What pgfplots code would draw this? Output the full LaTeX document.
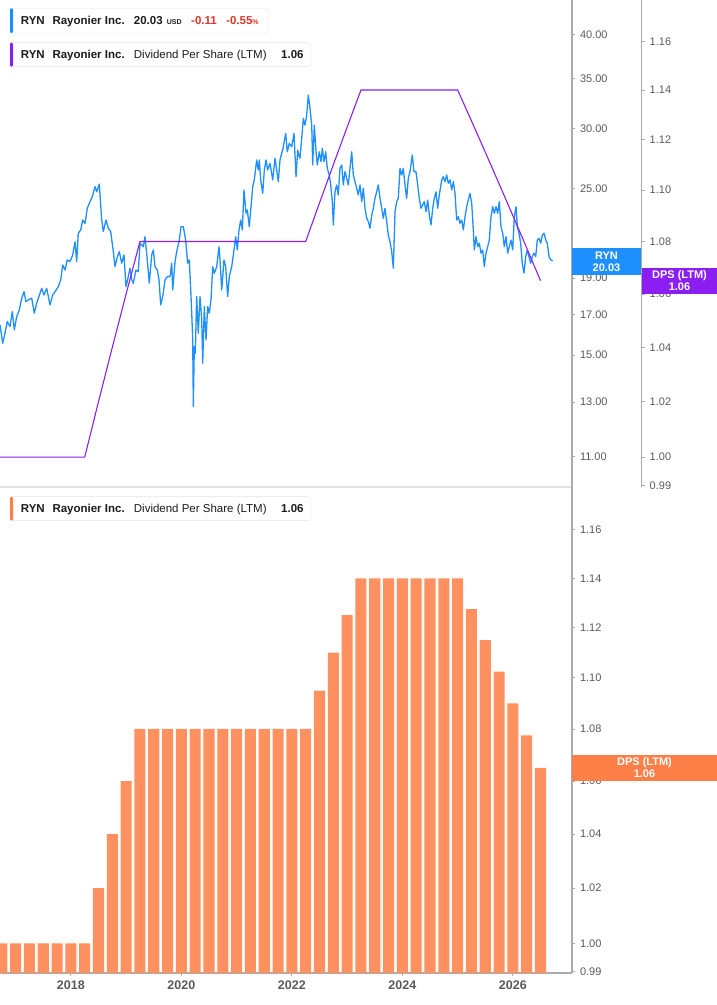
\documentclass[border=0pt]{standalone}
\usepackage{pgfplots}
\pgfplotsset{compat=1.18}
\usepackage{pgfplotstable}
\usepackage{fontspec}
\setmainfont{Liberation Sans}

\definecolor{pricecol}{HTML}{1E8FFF}
\definecolor{dpscol}{HTML}{8B1FF2}
\definecolor{barcol}{HTML}{FF9160}
\definecolor{boxorange}{HTML}{FC7F48}
\definecolor{tickgray}{HTML}{5A5A5A}
\definecolor{axisgray}{HTML}{ABABAB}
\definecolor{sepgray}{HTML}{E2E2E2}
\definecolor{legborder}{HTML}{E6E6E6}
\definecolor{downred}{HTML}{E0362C}
\definecolor{txt}{HTML}{1C1C1C}

\newcommand\lgfont{\fontsize{11.5}{13}\selectfont}
\newcommand\tkfont{\fontsize{11}{13}\selectfont}

% trailing twelve month dividend per share, quarterly
\pgfplotstableread{
year dps
2016.50 1.00
2016.75 1.00
2017.00 1.00
2017.25 1.00
2017.50 1.00
2017.75 1.00
2018.00 1.00
2018.25 1.00
2018.50 1.02
2018.75 1.04
2019.00 1.06
2019.25 1.08
2019.50 1.08
2019.75 1.08
2020.00 1.08
2020.25 1.08
2020.50 1.08
2020.75 1.08
2021.00 1.08
2021.25 1.08
2021.50 1.08
2021.75 1.08
2022.00 1.08
2022.25 1.08
2022.50 1.095
2022.75 1.11
2023.00 1.125
2023.25 1.14
2023.50 1.14
2023.75 1.14
2024.00 1.14
2024.25 1.14
2024.50 1.14
2024.75 1.14
2025.00 1.14
2025.25 1.1275
2025.50 1.115
2025.75 1.1025
2026.00 1.09
2026.25 1.0775
2026.50 1.065
}\dpstable

% RYN share price (USD)
\pgfplotstableread{
year price
2016.717 16.46
2016.766 15.56
2016.808 16.06
2016.849 16.63
2016.898 16.37
2016.940 17.14
2016.976 16.21
2017.019 16.88
2017.066 17.23
2017.110 17.86
2017.151 18.22
2017.188 17.67
2017.229 17.77
2017.291 17.86
2017.338 17.06
2017.381 17.59
2017.441 18.13
2017.472 18.41
2017.513 18.04
2017.562 18.41
2017.622 17.50
2017.671 18.04
2017.713 18.22
2017.772 18.50
2017.816 18.89
2017.852 19.77
2017.894 19.47
2017.935 20.08
2017.984 19.98
2018.033 20.39
2018.075 21.23
2018.105 19.98
2018.134 21.79
2018.178 22.01
2018.214 22.69
2018.256 22.46
2018.297 23.52
2018.346 24.00
2018.388 24.37
2018.437 25.13
2018.467 24.74
2018.514 25.33
2018.558 22.69
2018.587 21.90
2018.636 22.69
2018.677 22.12
2018.721 21.90
2018.768 20.59
2018.799 19.67
2018.840 20.28
2018.876 20.59
2018.920 19.88
2018.961 20.39
2018.998 18.50
2019.039 19.08
2019.070 19.58
2019.101 18.89
2019.130 18.70
2019.178 19.47
2019.220 19.37
2019.251 21.13
2019.311 20.91
2019.341 21.56
2019.383 20.08
2019.419 18.70
2019.463 20.39
2019.492 20.70
2019.523 19.67
2019.564 19.47
2019.595 18.89
2019.626 17.50
2019.662 17.95
2019.704 18.89
2019.745 19.08
2019.794 19.08
2019.825 19.88
2019.843 18.32
2019.885 19.98
2019.915 20.59
2019.962 21.34
2019.993 22.23
2020.035 22.23
2020.078 21.34
2020.114 19.88
2020.143 20.08
2020.169 18.32
2020.187 17.06
2020.205 15.72
2020.216 12.82
2020.234 15.40
2020.252 15.09
2020.277 17.95
2020.306 16.04
2020.337 17.95
2020.368 16.71
2020.386 14.64
2020.415 17.41
2020.446 15.72
2020.476 17.41
2020.505 17.06
2020.536 17.77
2020.567 19.67
2020.596 19.28
2020.639 19.67
2020.681 20.91
2020.699 20.08
2020.730 18.32
2020.771 20.08
2020.802 19.67
2020.838 17.95
2020.867 19.08
2020.911 19.67
2020.952 20.70
2020.983 21.56
2021.012 20.70
2021.043 22.01
2021.074 22.69
2021.103 22.01
2021.133 24.87
2021.170 23.16
2021.193 23.40
2021.229 22.23
2021.260 23.64
2021.291 25.13
2021.320 25.65
2021.363 27.27
2021.392 26.44
2021.410 27.27
2021.436 25.65
2021.472 24.62
2021.501 26.44
2021.532 27.27
2021.562 26.44
2021.604 26.99
2021.653 25.65
2021.695 27.41
2021.725 26.44
2021.754 25.51
2021.785 27.27
2021.816 27.83
2021.845 28.39
2021.888 29.58
2021.917 27.96
2021.954 28.69
2021.997 28.39
2022.038 29.58
2022.075 25.91
2022.106 28.11
2022.134 27.54
2022.147 27.41
2022.178 29.13
2022.207 30.97
2022.238 30.34
2022.268 31.29
2022.297 33.26
2022.328 31.93
2022.359 30.34
2022.377 26.85
2022.406 30.34
2022.437 27.96
2022.460 26.85
2022.496 27.96
2022.527 27.12
2022.551 28.26
2022.581 27.12
2022.612 27.96
2022.641 26.58
2022.677 26.04
2022.703 25.26
2022.732 24.00
2022.750 22.35
2022.780 24.74
2022.811 25.26
2022.840 24.50
2022.871 26.58
2022.902 26.85
2022.930 25.26
2022.961 26.31
2022.992 25.78
2023.021 25.26
2023.052 26.58
2023.083 27.96
2023.112 26.04
2023.143 25.51
2023.173 25.00
2023.202 24.50
2023.233 25.26
2023.264 24.00
2023.293 25.00
2023.324 23.52
2023.354 22.81
2023.384 22.57
2023.414 22.12
2023.445 23.04
2023.474 23.52
2023.504 24.25
2023.535 24.74
2023.564 25.26
2023.595 24.25
2023.626 23.52
2023.655 22.81
2023.685 23.52
2023.716 22.57
2023.745 21.67
2023.776 21.23
2023.807 20.59
2023.836 19.58
2023.867 23.28
2023.897 24.00
2023.926 24.25
2023.957 26.58
2023.988 26.04
2024.017 26.58
2024.047 25.26
2024.078 24.25
2024.107 25.78
2024.138 26.31
2024.179 27.68
2024.210 26.31
2024.246 26.31
2024.277 25.26
2024.306 24.25
2024.337 23.52
2024.368 23.76
2024.397 24.00
2024.428 23.28
2024.458 24.12
2024.487 23.04
2024.518 22.35
2024.549 23.52
2024.578 24.25
2024.609 24.74
2024.639 23.52
2024.668 24.50
2024.712 25.65
2024.741 25.91
2024.771 25.51
2024.802 26.04
2024.831 25.39
2024.862 25.65
2024.893 24.87
2024.922 25.51
2024.953 24.62
2024.983 22.69
2025.012 22.92
2025.043 22.46
2025.074 22.69
2025.103 22.01
2025.134 22.92
2025.164 23.64
2025.193 24.12
2025.224 24.62
2025.255 23.88
2025.284 22.01
2025.302 20.70
2025.333 21.56
2025.363 20.91
2025.392 21.13
2025.423 20.50
2025.454 20.70
2025.483 19.67
2025.513 20.50
2025.544 20.91
2025.573 21.34
2025.604 22.92
2025.635 23.64
2025.664 23.16
2025.695 23.64
2025.726 23.16
2025.754 24.00
2025.785 22.23
2025.816 21.79
2025.845 20.91
2025.876 21.56
2025.906 20.50
2025.935 20.91
2025.966 21.34
2025.997 20.70
2026.026 22.92
2026.057 23.64
2026.080 22.23
2026.111 21.79
2026.141 21.13
2026.170 19.88
2026.201 19.28
2026.232 20.28
2026.261 20.70
2026.292 20.28
2026.322 19.88
2026.351 20.28
2026.382 20.50
2026.413 20.28
2026.442 21.34
2026.473 21.46
2026.504 21.13
2026.533 21.67
2026.564 21.79
2026.595 21.34
2026.623 21.13
2026.654 20.28
2026.685 20.08
2026.721 20.03
}\pricetable

\pgfplotsset{
  panel/.style={
    scale only axis,
    anchor=south west,
    xmin=2016.717,
    tick align=outside,
    major tick length=3pt,
    tick style={draw=axisgray, line width=0.8pt},
    y axis line style={draw=axisgray, line width=1.2pt},
    yticklabel style={font=\tkfont, text=tickgray, xshift=1.5pt},
  },
}

\begin{document}
\begin{tikzpicture}
\useasboundingbox (0,0) rectangle (717pt,1005pt);

% top panel: share price
\begin{axis}[panel, ymode=log,
  at={(0pt,518pt)}, width=572pt, height=487pt,
  xmax=2027.07, ymin=10.02, ymax=44.5,
  axis x line*=bottom, axis y line*=right,
  x axis line style={draw=sepgray, line width=1.2pt},
  xtick=\empty,
  ytick={11,13,15,17,19,25,30,35,40},
  yticklabels={11.00,13.00,15.00,17.00,19.00,25.00,30.00,35.00,40.00},
]
\addplot[pricecol, line width=1.3pt, line join=round] table[x=year, y=price] {\pricetable};
\end{axis}

% top panel: dividend per share line on its own scale
\begin{axis}[panel, ymode=log,
  at={(0pt,518pt)}, width=641.7pt, height=487pt,
  xmax=2028.331, ymin=0.9894, ymax=1.1772,
  axis x line=none, axis y line*=right,
  ytick={0.99,1.00,1.02,1.04,1.06,1.08,1.10,1.12,1.14,1.16},
  yticklabels={0.99,1.00,1.02,1.04,1.06,1.08,1.10,1.12,1.14,1.16},
]
\addplot[dpscol, line width=1.1pt] table[x=year, y=dps] {\dpstable};
\end{axis}

% bottom panel: dividend per share bars
\begin{axis}[panel, ymode=log,
  at={(0pt,32pt)}, width=572pt, height=486pt,
  xmax=2027.07, ymin=0.9894, ymax=1.178,
  log origin=infty,
  ybar, bar width=0.2,
  axis x line*=bottom, axis y line*=right,
  x axis line style={draw=axisgray, line width=1.2pt},
  xtick={2018,2020,2022,2024,2026},
  xticklabels={2018,2020,2022,2024,2026},
  xticklabel style={font=\fontsize{12.5}{14}\selectfont\bfseries, text=tickgray, yshift=-1.5pt},
  ytick={0.99,1.00,1.02,1.04,1.06,1.08,1.10,1.12,1.14,1.16},
  yticklabels={0.99,1.00,1.02,1.04,1.06,1.08,1.10,1.12,1.14,1.16},
]
\addplot[fill=barcol, draw=none] table[x=year, y=dps] {\dpstable};
\end{axis}

% last value tags
\fill[pricecol] (572pt,730pt) rectangle (641pt,757pt);
\node[text=white, font=\fontsize{11}{12}\selectfont\bfseries, align=center, inner sep=0pt]
  at (606.5pt,743.5pt) {RYN\\20.03};
\fill[dpscol] (642pt,711pt) rectangle (717pt,737pt);
\node[text=white, font=\fontsize{11}{12}\selectfont\bfseries, align=center, inner sep=0pt]
  at (679.5pt,724pt) {DPS (LTM)\\1.06};
\fill[boxorange] (572pt,224pt) rectangle (717pt,250pt);
\node[text=white, font=\fontsize{11}{12}\selectfont\bfseries, align=center, inner sep=0pt]
  at (644.5pt,237pt) {DPS (LTM)\\1.06};

% legends
\draw[legborder, fill=white, rounded corners=3pt] (10pt,972pt) rectangle (268.7pt,996.7pt);
\fill[pricecol, rounded corners=1.2pt] (10pt,972pt) rectangle (13pt,996.7pt);
\node[anchor=base west, inner sep=0pt, font=\lgfont\bfseries, text=txt] at (20.7pt,980pt) {RYN};
\node[anchor=base west, inner sep=0pt, font=\lgfont\bfseries, text=txt] at (52.3pt,980pt) {Rayonier Inc.};
\node[anchor=base west, inner sep=0pt, font=\lgfont\bfseries, text=txt] at (133.7pt,980pt) {20.03};
\node[anchor=base west, inner sep=0pt, font=\fontsize{7}{8}\selectfont\bfseries, text=txt] at (166.7pt,980pt) {USD};
\node[anchor=base west, inner sep=0pt, font=\lgfont\bfseries, text=downred] at (191pt,980pt) {-0.11};
\node[anchor=base west, inner sep=0pt, font=\lgfont\bfseries, text=downred] at (226pt,980pt) {-0.55\fontsize{7}{8}\selectfont\%};

\draw[legborder, fill=white, rounded corners=3pt] (10pt,938.3pt) rectangle (311pt,962.3pt);
\fill[dpscol, rounded corners=1.2pt] (10pt,938.3pt) rectangle (13pt,962.3pt);
\node[anchor=base west, inner sep=0pt, font=\lgfont\bfseries, text=txt] at (20.7pt,946pt) {RYN};
\node[anchor=base west, inner sep=0pt, font=\lgfont\bfseries, text=txt] at (52.3pt,946pt) {Rayonier Inc.};
\node[anchor=base west, inner sep=0pt, font=\lgfont, text=txt] at (133.7pt,946pt) {Dividend Per Share (LTM)};
\node[anchor=base west, inner sep=0pt, font=\lgfont\bfseries, text=txt] at (281pt,946pt) {1.06};

\draw[legborder, fill=white, rounded corners=3pt] (10pt,484.3pt) rectangle (311pt,508.3pt);
\fill[boxorange, rounded corners=1.2pt] (10pt,484.3pt) rectangle (13pt,508.3pt);
\node[anchor=base west, inner sep=0pt, font=\lgfont\bfseries, text=txt] at (20.7pt,492.7pt) {RYN};
\node[anchor=base west, inner sep=0pt, font=\lgfont\bfseries, text=txt] at (52.3pt,492.7pt) {Rayonier Inc.};
\node[anchor=base west, inner sep=0pt, font=\lgfont, text=txt] at (133.7pt,492.7pt) {Dividend Per Share (LTM)};
\node[anchor=base west, inner sep=0pt, font=\lgfont\bfseries, text=txt] at (281pt,492.7pt) {1.06};
\end{tikzpicture}
\end{document}
